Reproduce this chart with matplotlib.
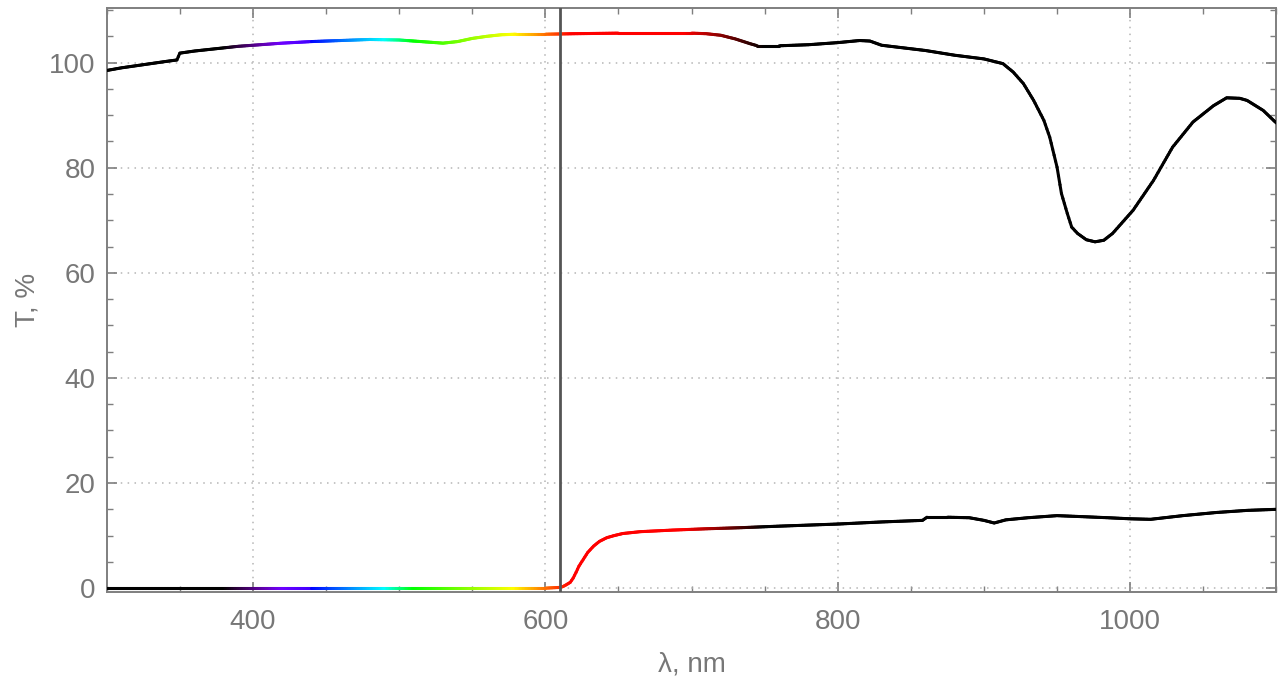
import numpy as np
import matplotlib
matplotlib.use("Agg")
import matplotlib.pyplot as plt
from matplotlib.collections import LineCollection
from matplotlib.ticker import MultipleLocator

# Transmission spectra (wavelength nm, T %)
wl_top = [300, 310, 320, 330, 340, 348, 350, 360, 370, 380, 390, 400, 420, 440,
          460, 480, 500, 515, 530, 540, 550, 560, 570, 580, 600, 620, 650, 680,
          700, 710, 720, 730, 740, 745, 760, 780, 800, 815, 822, 830, 845, 860,
          880, 900, 913, 920, 927, 934, 941, 945, 950, 953, 957, 960, 964, 970,
          976, 982, 988, 1002, 1016, 1029, 1043, 1057, 1066, 1075, 1080, 1091, 1100]
t_top = [98.5, 99.0, 99.4, 99.8, 100.2, 100.5, 101.8, 102.2, 102.5, 102.8, 103.1,
         103.3, 103.7, 104.0, 104.2, 104.4, 104.3, 104.0, 103.7, 104.0, 104.6,
         105.0, 105.3, 105.4, 105.4, 105.5, 105.6, 105.6, 105.6, 105.5, 105.2,
         104.5, 103.6, 103.2, 103.2, 103.4, 103.8, 104.2, 104.1, 103.3, 102.8,
         102.3, 101.4, 100.7, 99.8, 98.2, 96.0, 92.8, 89.0, 85.8, 80.1, 75.1,
         71.3, 68.7, 67.5, 66.3, 65.9, 66.2, 67.5, 71.9, 77.6, 83.9, 88.7, 91.8,
         93.3, 93.2, 92.8, 90.9, 88.5]

wl_bot = [300, 400, 500, 600, 610, 612, 614, 617, 619, 621, 623, 626, 629, 633,
          637, 642, 647, 653, 665, 687, 710, 733, 760, 800, 830, 858, 861, 875,
          890, 900, 907, 915, 930, 950, 968, 985, 1000, 1014, 1036, 1059, 1080, 1100]
t_bot = [0.0, 0.0, 0.0, 0.0, 0.15, 0.3, 0.6, 1.1, 1.9, 3.0, 4.2, 5.5, 6.8, 8.0,
         8.9, 9.6, 10.0, 10.4, 10.75, 11.05, 11.3, 11.5, 11.8, 12.2, 12.6, 12.9,
         13.5, 13.5, 13.4, 12.9, 12.4, 13.0, 13.4, 13.8, 13.6, 13.4, 13.2, 13.1,
         13.8, 14.4, 14.8, 15.0]

cutoff = 610

GRAY = "#7f7f7f"


def spectrum_rgb(w):
    """Rough visible-spectrum colour, black outside 380-750 nm."""
    if w < 380 or w > 750:
        return (0.0, 0.0, 0.0)
    if w < 440:
        r, g, b = 0.55 * (440 - w) / 60 + 0.25, 0.0, 1.0
    elif w < 490:
        r, g, b = 0.0, (w - 440) / 50, 1.0
    elif w < 510:
        r, g, b = 0.0, 1.0, (510 - w) / 20
    elif w < 578:
        r, g, b = (w - 510) / 68, 1.0, 0.0
    elif w < 618:
        r, g, b = 1.0, (618 - w) / 40, 0.0
    else:
        r, g, b = 1.0, 0.0, 0.0
    if w < 420:
        f = (w - 380) / 40
    elif w > 695:
        f = (750 - w) / 55
    else:
        f = 1.0
    return (r * f, g * f, b * f)


def spectral_line(ax, x, y, lw=2.2):
    # each straight segment is split into short pieces so the colour can follow the wavelength
    segs, cols = [], []
    for i in range(len(x) - 1):
        n = max(2, int(abs(x[i + 1] - x[i])) + 1)
        xs = np.linspace(x[i], x[i + 1], n)
        ys = np.linspace(y[i], y[i + 1], n)
        for j in range(n - 1):
            segs.append([(xs[j], ys[j]), (xs[j + 1], ys[j + 1])])
            cols.append(spectrum_rgb(0.5 * (xs[j] + xs[j + 1])))
    lc = LineCollection(segs, colors=cols, linewidths=lw, capstyle="round", zorder=3)
    ax.add_collection(lc)


plt.rcParams["font.family"] = ["Liberation Sans", "DejaVu Sans"]

fig = plt.figure(figsize=(12.86, 6.77), dpi=100)
ax = fig.add_axes([0.083, 0.125, 0.9095, 0.8625])

spectral_line(ax, wl_top, t_top)
spectral_line(ax, wl_bot, t_bot)
ax.axvline(cutoff, color="#555555", lw=2, zorder=4)

ax.set_xlim(300, 1100)
ax.set_ylim(-0.8, 110.3)

ax.xaxis.set_major_locator(MultipleLocator(200))
ax.xaxis.set_minor_locator(MultipleLocator(50))
ax.yaxis.set_major_locator(MultipleLocator(20))
ax.yaxis.set_minor_locator(MultipleLocator(5))

ax.grid(True, which="major", ls=(0, (1, 3.5)), color="#b5b5b5", lw=1.1)
ax.set_axisbelow(True)

for s in ax.spines.values():
    s.set_color(GRAY)
    s.set_linewidth(1.4)

ax.tick_params(which="both", direction="in", top=True, right=True, color=GRAY,
               labelcolor="#777777", labelsize=20)
ax.tick_params(which="major", length=7, width=1.2)
ax.tick_params(axis="x", which="major", pad=12)
ax.tick_params(axis="y", which="major", pad=8)
ax.tick_params(which="minor", length=4, width=1.0)

ax.set_xlabel("λ, nm", fontsize=20, color="#777777", labelpad=12)
ax.set_ylabel("T, %", fontsize=20, color="#777777", labelpad=6)

fig.savefig("out.png", dpi=100)
